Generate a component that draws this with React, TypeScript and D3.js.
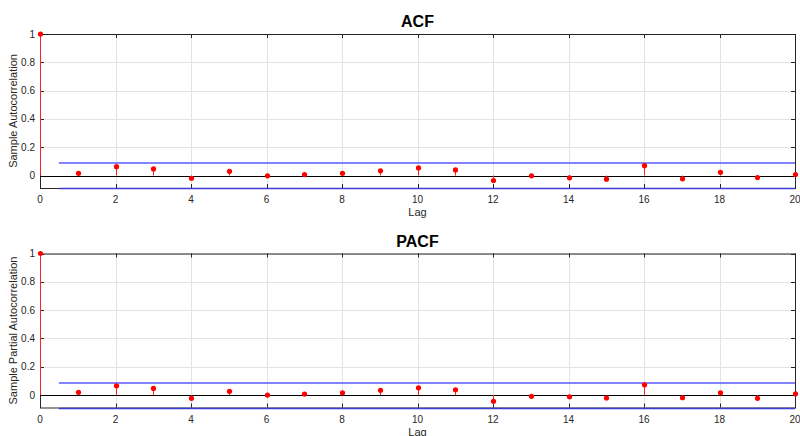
import React from "react";
import * as d3 from "d3";

const lags = d3.range(0, 21);
const acfValues = [1, 0.016, 0.063, 0.047, -0.019, 0.030, -0.002, 0.007, 0.016, 0.033, 0.054, 0.040, -0.035, -0.002, -0.016, -0.026, 0.070, -0.023, 0.023, -0.014, 0.007];
const pacfValues = [1, 0.019, 0.065, 0.047, -0.023, 0.026, 0.0, 0.007, 0.016, 0.033, 0.051, 0.037, -0.044, -0.009, -0.012, -0.021, 0.072, -0.019, 0.016, -0.023, 0.009];
const bound = 0.088;
const xTicks = [0, 2, 4, 6, 8, 10, 12, 14, 16, 18, 20];
const yTicks = [0, 0.2, 0.4, 0.6, 0.8, 1];
const yTickLabels = ["0", "0.2", "0.4", "0.6", "0.8", "1"];

const W = 800;
const H = 436;
const font = "'Liberation Sans', Arial, Helvetica, sans-serif";
const axisColor = "#262626";
const px = (v: number) => Math.round(v) + 0.5;

function Panel({ top, title, ylabel, values }: { top: number; title: string; ylabel: string; values: number[] }) {
  const left = 40, right = 795, h = 154;
  const x = d3.scaleLinear().domain([0, 20]).range([left, right]);
  const y = d3.scaleLinear().domain([-bound, 1]).range([top + h, top]);
  const tl = 4;
  return (
    <g>
      <text x={(left + right) / 2} y={top - 7} textAnchor="middle" fontFamily={font} fontWeight="bold" fontSize={16} fill="#000">{title}</text>
      {xTicks.map((t) => (
        <line key={"gx" + t} x1={px(x(t))} x2={px(x(t))} y1={top} y2={top + h} stroke="#e3e3e3" strokeWidth={1} />
      ))}
      {yTicks.map((t) => (
        <line key={"gy" + t} x1={left} x2={right} y1={px(y(t))} y2={px(y(t))} stroke="#e3e3e3" strokeWidth={1} />
      ))}
      <rect x={left + 0.5} y={top + 0.5} width={right - left} height={h} fill="none" stroke={axisColor} strokeWidth={1} />
      {xTicks.map((t) => (
        <g key={"tx" + t}>
          <line x1={px(x(t))} x2={px(x(t))} y1={top} y2={top + tl} stroke={axisColor} />
          <line x1={px(x(t))} x2={px(x(t))} y1={top + h} y2={top + h - tl} stroke={axisColor} />
          <text x={x(t)} y={top + h + 15} textAnchor="middle" fontFamily={font} fontSize={10} fill={axisColor}>{t}</text>
        </g>
      ))}
      {yTicks.map((t, i) => (
        <g key={"ty" + t}>
          <line x1={left} x2={left + tl} y1={px(y(t))} y2={px(y(t))} stroke={axisColor} />
          <line x1={right} x2={right - tl} y1={px(y(t))} y2={px(y(t))} stroke={axisColor} />
          <text x={left - 5} y={y(t) + 3.5} textAnchor="end" fontFamily={font} fontSize={10} fill={axisColor}>{yTickLabels[i]}</text>
        </g>
      ))}
      <text x={(left + right) / 2} y={top + h + 28} textAnchor="middle" fontFamily={font} fontSize={11} fill={axisColor}>Lag</text>
      <text transform={`translate(17,${top + h / 2}) rotate(-90)`} textAnchor="middle" fontFamily={font} fontSize={11} fill={axisColor}>{ylabel}</text>
      <line x1={left} x2={right} y1={px(y(0))} y2={px(y(0))} stroke="#000" strokeWidth={1} />
      <line x1={x(0.5)} x2={right} y1={Math.round(y(bound))} y2={Math.round(y(bound))} stroke="#5a5aff" strokeWidth={1.6} />
      <line x1={x(0.5)} x2={right} y1={px(y(-bound))} y2={px(y(-bound))} stroke="#3c3cd8" strokeWidth={1.5} />
      {lags.map((l, i) => (
        <g key={"s" + l}>
          <line x1={px(x(l))} x2={px(x(l))} y1={y(0)} y2={y(values[i])} stroke="#ff2020" strokeWidth={1} />
          <circle cx={px(x(l))} cy={y(values[i])} r={2.6} fill="#ff0000" />
        </g>
      ))}
    </g>
  );
}

export default function App() {
  return (
    <svg width={W} height={H} style={{ position: "absolute", left: 0, top: 0, background: "#fff" }}>
      <rect x={0} y={0} width={W} height={H} fill="#fff" />
      <Panel top={34} title="ACF" ylabel="Sample Autocorrelation" values={acfValues} />
      <Panel top={253.5} title="PACF" ylabel="Sample Partial Autocorrelation" values={pacfValues} />
    </svg>
  );
}
